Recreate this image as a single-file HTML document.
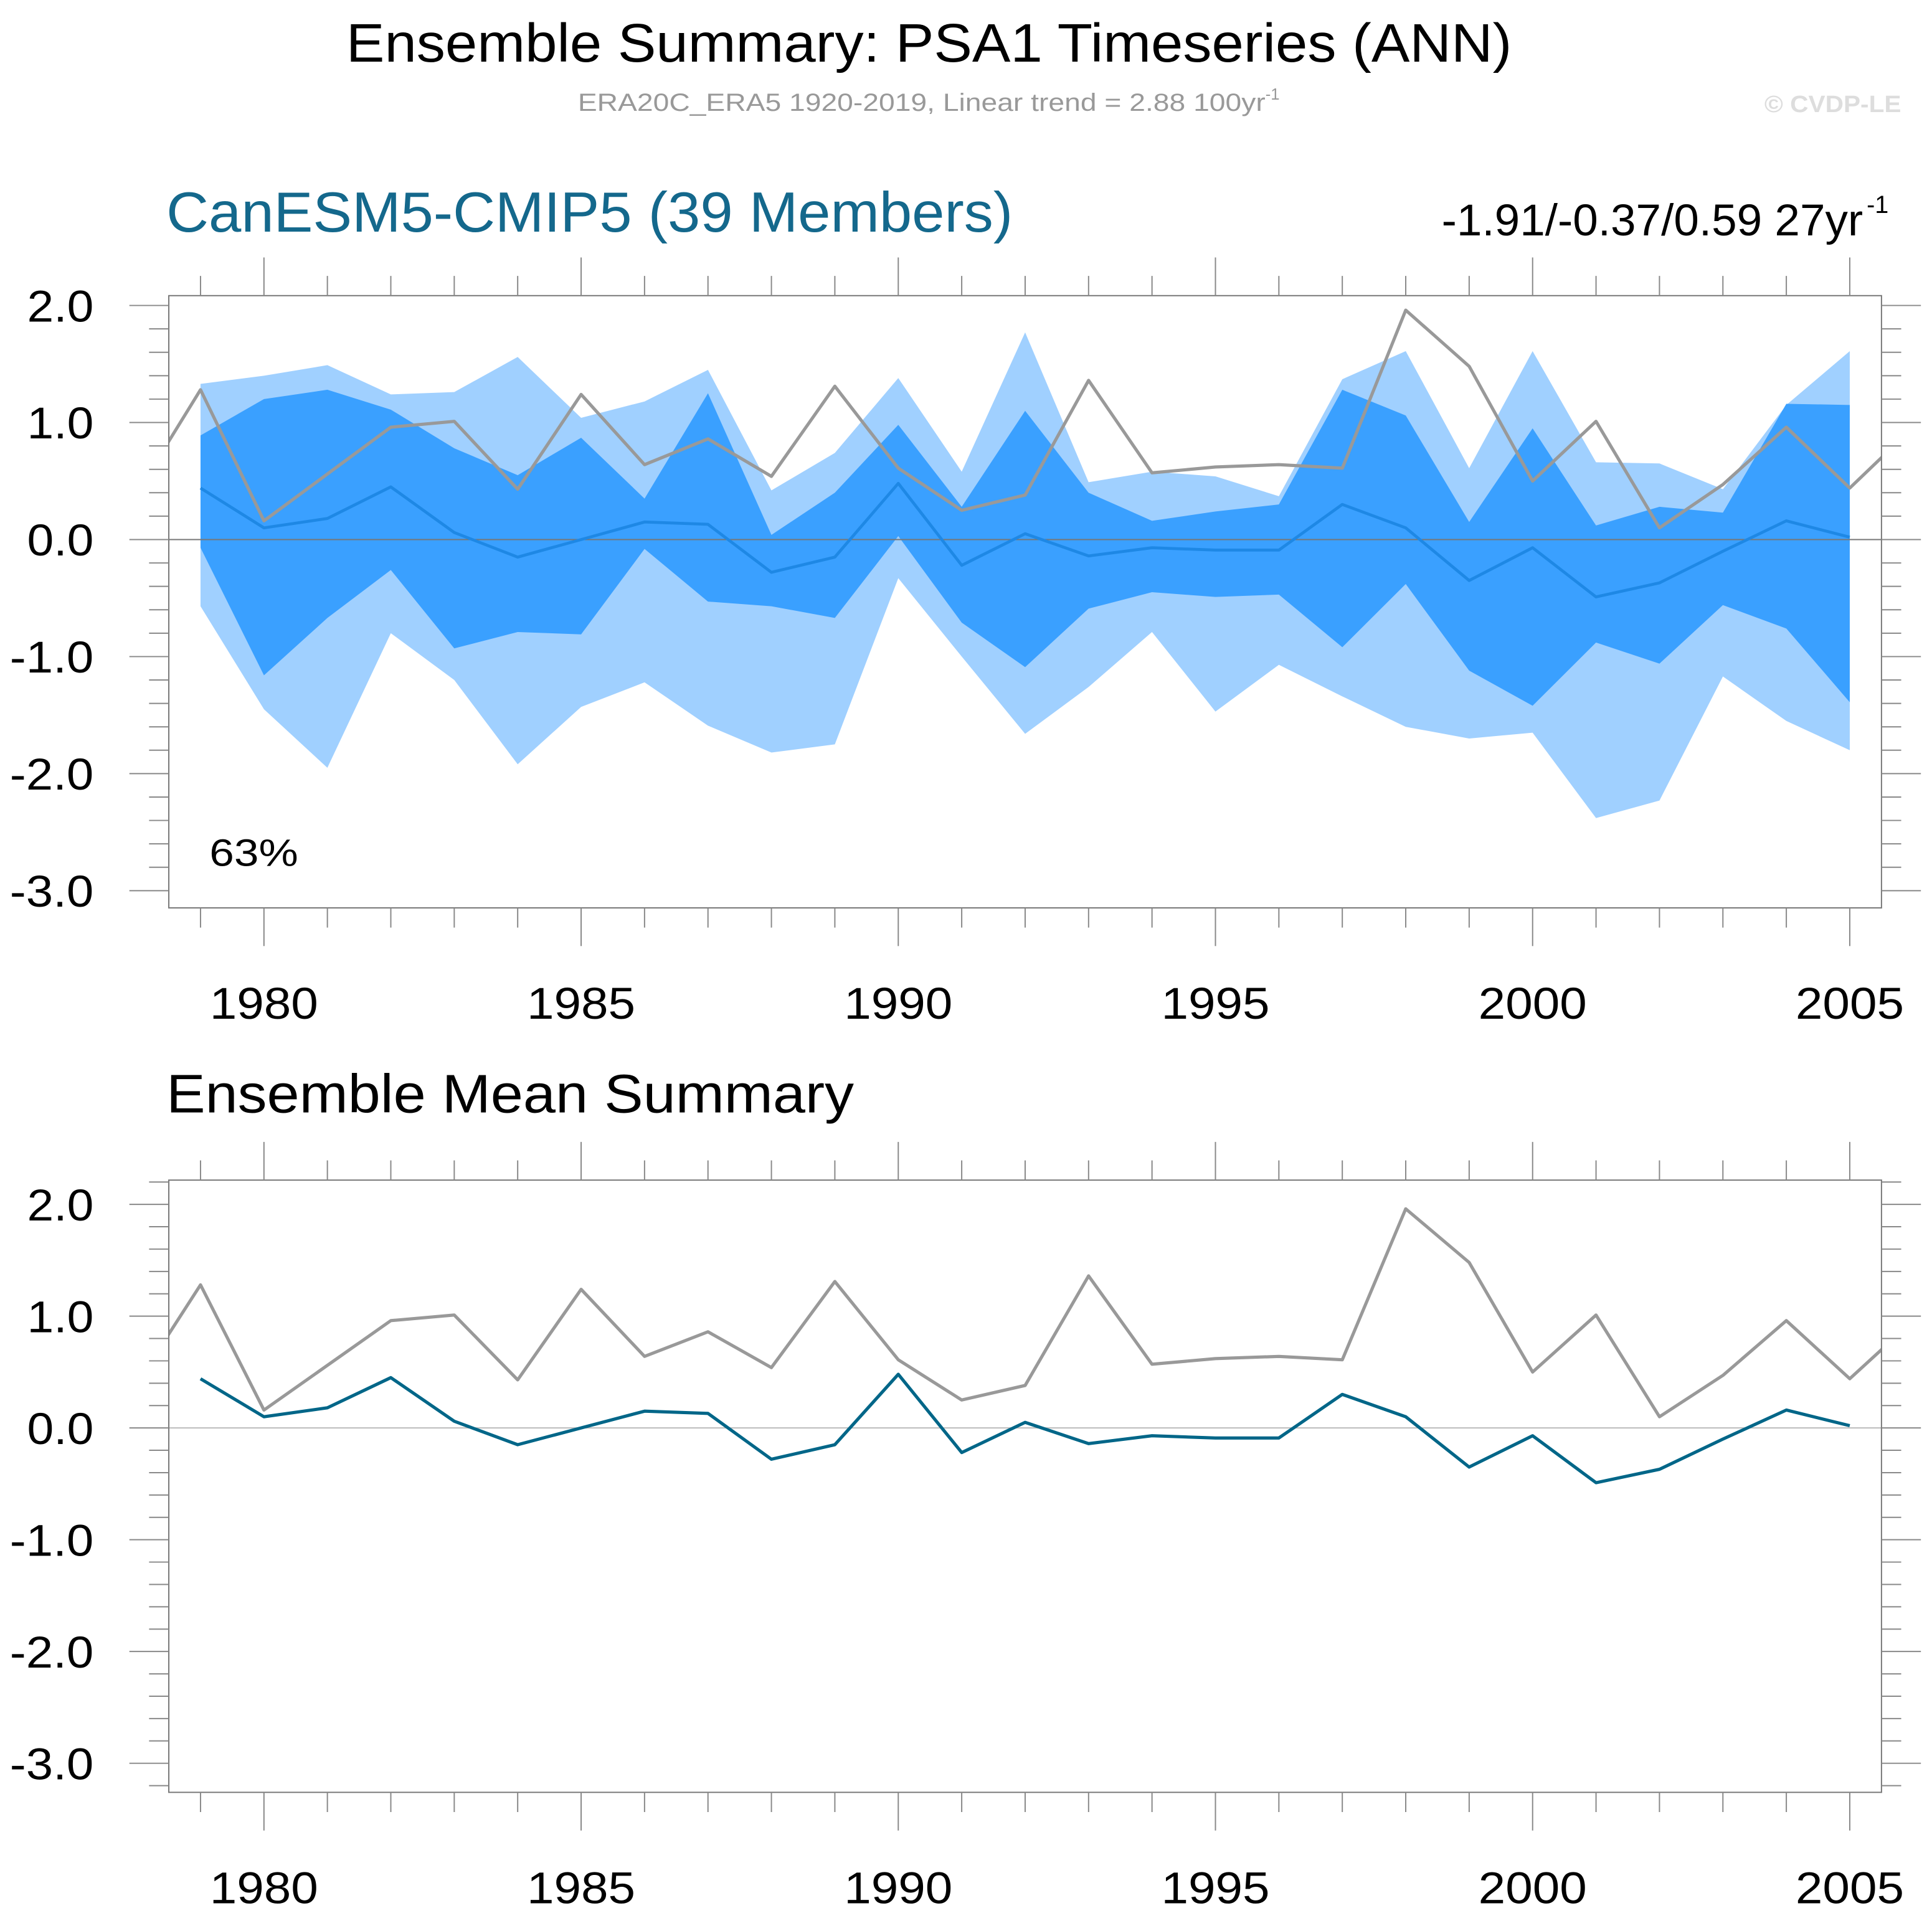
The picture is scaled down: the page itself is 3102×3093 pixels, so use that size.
<!DOCTYPE html>
<html><head><meta charset="utf-8"><style>
html,body{margin:0;padding:0;background:#fff;}
svg{display:block;font-family:"Liberation Sans",sans-serif;}
</style></head><body>
<svg id="chart" width="3102" height="3093" viewBox="0 0 1568 1563.5" preserveAspectRatio="none" xmlns="http://www.w3.org/2000/svg">
<text x="754" y="50" font-size="44" text-anchor="middle" textLength="946" lengthAdjust="spacingAndGlyphs">Ensemble Summary: PSA1 Timeseries (ANN)</text>
<text x="469" y="90" font-size="20" fill="#999"><tspan textLength="558" lengthAdjust="spacingAndGlyphs">ERA20C_ERA5 1920-2019, Linear trend = 2.88 100yr</tspan><tspan font-size="13" dy="-9">-1</tspan></text>
<text x="1543" y="91" font-size="19" font-weight="bold" fill="#ddd" text-anchor="end" textLength="111" lengthAdjust="spacingAndGlyphs">© CVDP-LE</text>
<text x="135" y="188" font-size="46" fill="#14688c" textLength="687" lengthAdjust="spacingAndGlyphs">CanESM5-CMIP5 (39 Members)</text>
<text x="1512" y="191" font-size="36" text-anchor="end" textLength="342" lengthAdjust="spacingAndGlyphs">-1.91/-0.37/0.59 27yr</text>
<text x="1515" y="173" font-size="20">-1</text>
<text x="135" y="903" font-size="44" textLength="558" lengthAdjust="spacingAndGlyphs">Ensemble Mean Summary</text>
<g id="p1"></g>
<g id="p2"></g>
</svg>
<script>
const years = [1979,1980,1981,1982,1983,1984,1985,1986,1987,1988,1989,1990,1991,1992,1993,1994,1995,1996,1997,1998,1999,2000,2001,2002,2003,2004,2005];
const obsYears = [1978,1979,1980,1981,1982,1983,1984,1985,1986,1987,1988,1989,1990,1991,1992,1993,1994,1995,1996,1997,1998,1999,2000,2001,2002,2003,2004,2005,2006];
const obsValues = [0.40,1.28,0.16,0.56,0.96,1.01,0.43,1.24,0.64,0.86,0.54,1.31,0.61,0.25,0.38,1.36,0.57,0.62,0.64,0.61,1.96,1.48,0.50,1.01,0.10,0.47,0.96,0.44,0.96];
const ensMean = [0.44,0.10,0.18,0.45,0.06,-0.15,0.00,0.15,0.13,-0.28,-0.15,0.48,-0.22,0.05,-0.14,-0.07,-0.09,-0.09,0.30,0.10,-0.35,-0.07,-0.49,-0.37,-0.10,0.16,0.02];
const ensMax = [1.33,1.40,1.49,1.24,1.26,1.56,1.04,1.18,1.45,0.42,0.74,1.38,0.58,1.77,0.49,0.58,0.54,0.37,1.37,1.61,0.61,1.61,0.66,0.65,0.43,1.15,1.61];
const ensP75 = [0.89,1.20,1.28,1.11,0.78,0.55,0.87,0.35,1.25,0.04,0.40,0.98,0.28,1.10,0.40,0.16,0.24,0.30,1.28,1.06,0.15,0.95,0.12,0.28,0.23,1.16,1.15];
const ensP25 = [-0.07,-1.16,-0.67,-0.26,-0.93,-0.79,-0.81,-0.08,-0.53,-0.57,-0.67,0.03,-0.71,-1.09,-0.59,-0.45,-0.49,-0.47,-0.92,-0.38,-1.12,-1.42,-0.88,-1.06,-0.56,-0.76,-1.39];
const ensMin = [-0.57,-1.45,-1.95,-0.80,-1.20,-1.92,-1.43,-1.22,-1.59,-1.82,-1.75,-0.33,-1.00,-1.66,-1.26,-0.79,-1.47,-1.07,-1.34,-1.60,-1.70,-1.65,-2.38,-2.23,-1.17,-1.55,-1.80];
const yTickLabels = ["2.0","1.0","0.0","-1.0","-2.0","-3.0"];
const yTickValues = [2,1,0,-1,-2,-3];
const xTickLabels = ["1980","1985","1990","1995","2000","2005"];
const xTickValues = [1980,1985,1990,1995,2000,2005];

const NS="http://www.w3.org/2000/svg";
function mk(parent,tag,attrs){const e=document.createElementNS(NS,tag);for(const k in attrs)e.setAttribute(k,attrs[k]);parent.appendChild(e);return e;}

function drawPanel(gid, top, bottom, yMax, yMin, bands, meanColor, meanWidth, pctText, prefix){
  const g=document.getElementById(gid);
  const L=137,R=1527,xMin=1978.5,xMax=2005.5;
  const X=v=>L+(v-xMin)/(xMax-xMin)*(R-L);
  const Y=v=>top+(yMax-v)/(yMax-yMin)*(bottom-top);
  const clipId=gid+'clip';
  const cp=mk(g,'clipPath',{id:clipId});
  mk(cp,'rect',{x:L,y:top,width:R-L,height:bottom-top});
  const inner=mk(g,'g',{'clip-path':'url(#'+clipId+')'});
  if(bands){
    const poly=(hi,lo,fill,name)=>{
      let pts=years.map((y,i)=>X(y)+','+Y(hi[i]));
      for(let i=years.length-1;i>=0;i--)pts.push(X(years[i])+','+Y(lo[i]));
      const p=mk(inner,'polygon',{points:pts.join(' '),fill:fill});
      
      
    };
    poly(ensMax,ensMin,'#a0d0ff','ensemble-range-band');
    poly(ensP75,ensP25,'#3aa0ff','ensemble-iqr-band');
  }
  const zl=mk(inner,'line',{x1:L,x2:R,y1:Y(0),y2:Y(0),stroke:bands?'#777':'#bbb','stroke-width':1});
  
  
  const obs=mk(inner,'polyline',{points:obsYears.map((y,i)=>X(y)+','+Y(obsValues[i])).join(' '),fill:'none',stroke:'#999','stroke-width':2.6,'stroke-linejoin':'round'});
  
  
  const mn=mk(inner,'polyline',{points:years.map((y,i)=>X(y)+','+Y(ensMean[i])).join(' '),fill:'none',stroke:meanColor,'stroke-width':meanWidth,'stroke-linejoin':'round'});
  
  
  const fr=mk(g,'rect',{x:L,y:top,width:R-L,height:bottom-top,fill:'none',stroke:'#777','stroke-width':1});
  
  
  for(let v=Math.ceil(yMin*5)/5; v<=yMax+1e-9; v+=0.2){
    const vv=Math.round(v*10)/10; const major=Math.abs(vv-Math.round(vv))<1e-6;
    const len=major?32:16;
    mk(g,'line',{x1:L-len,x2:L,y1:Y(vv),y2:Y(vv),stroke:'#888','stroke-width':1});
    mk(g,'line',{x1:R,x2:R+len,y1:Y(vv),y2:Y(vv),stroke:'#888','stroke-width':1});
  }
  yTickValues.forEach((v,i)=>{
    const lab=yTickLabels[i];
    const w=lab.length>3?68:54;
    const t=mk(g,'text',{x:76-w,y:Y(v)+13,'font-size':36,textLength:w,lengthAdjust:'spacingAndGlyphs'});
    t.textContent=lab;
    
    
  });
  for(let yr=1979; yr<=2005; yr++){
    const major=yr%5===0; const len=major?31:16;
    mk(g,'line',{x1:X(yr),x2:X(yr),y1:top-len,y2:top,stroke:'#888','stroke-width':1});
    mk(g,'line',{x1:X(yr),x2:X(yr),y1:bottom,y2:bottom+len,stroke:'#888','stroke-width':1});
  }
  xTickValues.forEach((v,i)=>{
    const t=mk(g,'text',{x:X(v)-44,y:bottom+90,'font-size':36,textLength:88,lengthAdjust:'spacingAndGlyphs'});
    t.textContent=xTickLabels[i];
    
    
  });
  if(pctText){
    const t=mk(g,'text',{x:170,y:703,'font-size':31,textLength:72,lengthAdjust:'spacingAndGlyphs'});
    t.textContent=pctText;
    
    
  }
}
drawPanel('p1',240,737,2.084,-3.147,true,'#1e88e5',2.4,'63%','top');
drawPanel('p2',958,1455,2.217,-3.26,false,'#006688',2.6,null,'bottom');
</script>
</body></html>
